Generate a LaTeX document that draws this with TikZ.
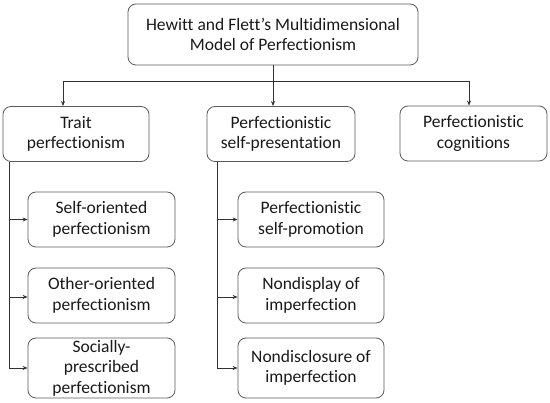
\documentclass[tikz,border=0pt]{standalone}
\usepackage{fontspec}
\setmainfont{Carlito}[Ligatures=NoCommon]
\usepackage{xcolor}
\usetikzlibrary{arrows.meta, positioning, calc}
\definecolor{boxline}{RGB}{90,90,90}
\definecolor{wireline}{RGB}{50,50,50}
\definecolor{labeltext}{RGB}{25,25,25}

\begin{document}
\begin{tikzpicture}[
    x=1pt, y=1pt,
    mainbox/.style={rectangle, rounded corners=8pt, draw=boxline, line width=0.8pt, text=labeltext, font=\fontsize{17.5}{20.5}\selectfont, align=center, inner sep=1pt},
    topbox/.style={mainbox, minimum width=290pt, minimum height=61pt},
    dimbox/.style={mainbox, minimum width=146pt, minimum height=55pt},
    subbox/.style={mainbox, minimum width=147pt, minimum height=55pt},
    wire/.style={draw=wireline, line width=0.8pt},
    arrow/.style={wire, -{Stealth[length=5pt, width=4pt]}},
]
\useasboundingbox (0,0) rectangle (550,-403);

% Model
\node[topbox] (model) at (273,-34.5) {Hewitt and Flett's Multidimensional\\Model of Perfectionism};

% Dimensions
\node[dimbox] (trait) at (76,-134) {Trait\\perfectionism};
\node[dimbox, minimum width=148pt] (selfpres) at (281,-134) {Perfectionistic\\self-presentation};
\node[dimbox, minimum width=147pt] (cogn) at (473.5,-133.5) {Perfectionistic\\cognitions};

% Trait facets
\node[subbox] (selfor) at (101.5,-219.5) {Self-oriented\\perfectionism};
\node[subbox] (otheror) at (101.5,-295.5) {Other-oriented\\perfectionism};
\node[subbox, minimum height=60pt] (socpres) at (101.5,-368) {Socially-\\prescribed\\perfectionism};

% Self-presentation facets
\node[subbox, minimum width=146pt] (promo) at (311,-219.5) {Perfectionistic\\self-promotion};
\node[subbox, minimum width=146pt] (nondisp) at (311,-295.5) {Nondisplay of\\imperfection};
\node[subbox, minimum width=146pt, minimum height=60pt] (nondisc) at (311,-368) {Nondisclosure of\\imperfection};

% Bus
\coordinate (busL) at (63,-81);
\coordinate (busR) at (469,-81);
\draw[wire] (model.south) -- (model.south |- busL);
\draw[wire] (busL) -- (busR);
\draw[arrow] (busL) -- (busL |- trait.north);
\draw[arrow] (model.south |- busL) -- (model.south |- selfpres.north);
\draw[arrow] (busR) -- (busR |- cogn.north);

% Trunks
\coordinate (trunkL) at ([xshift=7pt]trait.south west);
\coordinate (trunkM) at ([xshift=11pt]selfpres.south west);
\draw[arrow] (trunkL) |- (socpres.west);
\draw[arrow] (selfor.west -| trunkL) -- (selfor.west);
\draw[arrow] ([yshift=-1.5pt]otheror.west -| trunkL) -- ([yshift=-1.5pt]otheror.west);
\draw[arrow] (trunkM) |- (nondisc.west);
\draw[arrow] (promo.west -| trunkM) -- (promo.west);
\draw[arrow] ([yshift=-1.5pt]nondisp.west -| trunkM) -- ([yshift=-1.5pt]nondisp.west);

\end{tikzpicture}
\end{document}
